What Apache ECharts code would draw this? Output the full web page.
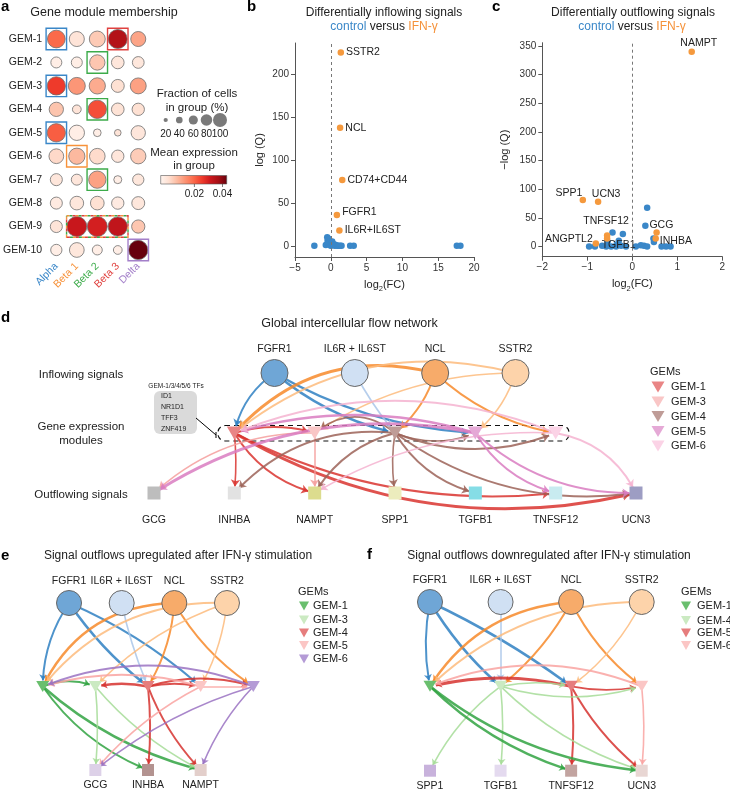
<!DOCTYPE html>
<html>
<head>
<meta charset="utf-8">
<script src="https://cdn.jsdelivr.net/npm/echarts@6.0.0/dist/echarts.min.js"></script>
<style>
html,body{margin:0;padding:0;background:#ffffff;}
#chart{width:730px;height:791px;}
</style>
</head>
<body>
<div id="chart"></div>
<script>
// ================= DATA =================
// --- panel a: gene module membership dot plot ---
const CELL_TYPES = ['Alpha', 'Beta 1', 'Beta 2', 'Beta 3', 'Delta'];
const GEM_ROWS = ['GEM-1','GEM-2','GEM-3','GEM-4','GEM-5','GEM-6','GEM-7','GEM-8','GEM-9','GEM-10'];
const fractionPct = [
  [85, 67, 73, 93, 67],
  [40, 40, 69, 51, 45],
  [89, 80, 75, 53, 73],
  [62, 25, 89, 51, 49],
  [89, 69, 18, 11, 62],
  [65, 75, 71, 49, 69],
  [47, 40, 82, 20, 42],
  [47, 58, 58, 49, 53],
  [47, 100, 100, 95, 55],
  [42, 65, 33, 25, 95]
];
const meanExpr = [
  [0.0195, 0.0007, 0.0054, 0.0350, 0.0110],
  [-0.002, -0.002, 0.0060, 0.0002, 0.0000],
  [0.0256, 0.0130, 0.0100, 0.0016, 0.0115],
  [0.0063, 0.0007, 0.0230, 0.0010, 0.0016],
  [0.0210, -0.002, -0.002, 0.0007, 0.0002],
  [0.0030, 0.0080, 0.0026, 0.0002, 0.0050],
  [0.0002, 0.0002, 0.0115, -0.002, 0.0000],
  [-0.001, 0.0000, 0.0016, -0.001, 0.0000],
  [0.0007, 0.0317, 0.0300, 0.0330, 0.0060],
  [-0.002, 0.0000, -0.002, -0.002, 0.0430]
];
const membership = [ // [module, first cell type, last cell type]
  ['GEM-1','Alpha','Alpha'], ['GEM-1','Beta 3','Beta 3'], ['GEM-2','Beta 2','Beta 2'],
  ['GEM-3','Alpha','Alpha'], ['GEM-4','Beta 2','Beta 2'], ['GEM-5','Alpha','Alpha'],
  ['GEM-6','Beta 1','Beta 1'], ['GEM-7','Beta 2','Beta 2'], ['GEM-9','Beta 1','Beta 3'],
  ['GEM-10','Delta','Delta']
];
const sizeLegendPct = [20, 40, 60, 80, 100];
const colorbarTicks = [0.02, 0.04];
const exprRange = [-0.004, 0.043];

// --- panel b: differentially inflowing signals ---
const inflowControl = [
  [-2.3, 0], [-0.7, 1], [-0.5, 10], [-0.45, 6], [-0.35, 3], [-0.25, 8], [-0.15, 1], [0.0, 0],
  [0.1, 3], [0.2, 5], [0.3, 1], [0.45, 2], [0.55, 0], [0.7, 1], [0.9, 0], [1.1, 0],
  [1.3, 0], [1.5, 0], [2.7, 0], [3.2, 0], [17.6, 0], [18.1, 0]
];
const inflowIfn = [[1.4, 226], [1.3, 138], [1.6, 77], [0.85, 36], [1.2, 18]];
const inflowIfnNames = ['SSTR2', 'NCL', 'CD74+CD44', 'FGFR1', 'IL6R+IL6ST'];

// --- panel c: differentially outflowing signals ---
const outflowControl = [
  [0.33, 67.5], [0.29, 36], [-0.44, 24.5], [-0.21, 21.5], [0.47, 14], [0.48, 7.5],
  [-0.55, 8], [-0.35, 3], [-0.30, 10],
  [-0.96, 0], [-0.83, 0], [-0.67, 1], [-0.58, 0], [-0.47, 0], [-0.36, 0], [-0.25, 1], [-0.14, 0],
  [0.08, 0], [0.19, 2], [0.26, 1], [0.33, 0], [0.65, 0], [0.75, 0], [0.85, 0]
];
const outflowControlNames = ['', 'GCG', '', '', '', 'INHBA', '', 'TGFB1'];
const outflowIfn = [[1.32, 340], [-1.10, 81], [-0.76, 78], [-0.56, 19], [-0.56, 14], [-0.81, 5], [0.54, 24.5], [0.52, 14]];
const outflowIfnNames = ['NAMPT', 'SPP1', 'UCN3', 'TNFSF12', '', 'ANGPTL2', '', ''];

// --- panel d: global intercellular flow network ---
const dInflow = ['FGFR1', 'IL6R + IL6ST', 'NCL', 'SSTR2'];
const dGems = ['GEM-1', 'GEM-3', 'GEM-4', 'GEM-5', 'GEM-6'];
const dOutflow = ['GCG', 'INHBA', 'NAMPT', 'SPP1', 'TGFB1', 'TNFSF12', 'UCN3'];
const dEdges = [
  ['FGFR1','GEM-1'], ['FGFR1','GEM-4'], ['FGFR1','GEM-5'], ['IL6R + IL6ST','GEM-4'],
  ['NCL','GEM-1'], ['NCL','GEM-4'], ['NCL','GEM-6'],
  ['SSTR2','GEM-1'], ['SSTR2','GEM-3'], ['SSTR2','GEM-5'],
  ['GEM-1','GEM-3'], ['GEM-1','INHBA'], ['GEM-1','NAMPT'], ['GEM-1','TNFSF12'], ['GEM-1','UCN3'],
  ['GEM-3','GCG'], ['GEM-3','NAMPT'],
  ['GEM-4','GEM-3'], ['GEM-4','GEM-5'], ['GEM-4','GEM-6'], ['GEM-4','INHBA'], ['GEM-4','NAMPT'],
  ['GEM-4','SPP1'], ['GEM-4','TGFB1'], ['GEM-4','UCN3'],
  ['GEM-5','GEM-1'], ['GEM-5','GCG'], ['GEM-5','TNFSF12'], ['GEM-5','UCN3'],
  ['GEM-6','GEM-1'], ['GEM-6','NAMPT'], ['GEM-6','UCN3']
];
// --- panel e: upregulated outflows ---
const eInflow = ['FGFR1', 'IL6R + IL6ST', 'NCL', 'SSTR2'];
const eGems = ['GEM-1', 'GEM-3', 'GEM-4', 'GEM-5', 'GEM-6'];
const eOutflow = ['GCG', 'INHBA', 'NAMPT'];
const eEdges = [
  ['FGFR1','GEM-1'], ['FGFR1','GEM-4'], ['FGFR1','GEM-5'], ['IL6R + IL6ST','GEM-4'],
  ['NCL','GEM-1'], ['NCL','GEM-4'], ['NCL','GEM-6'],
  ['SSTR2','GEM-1'], ['SSTR2','GEM-3'], ['SSTR2','GEM-5'],
  ['GEM-1','GEM-3'], ['GEM-1','INHBA'], ['GEM-1','NAMPT'],
  ['GEM-3','GCG'], ['GEM-3','NAMPT'],
  ['GEM-4','GEM-3'], ['GEM-4','GEM-5'], ['GEM-4','GEM-6'], ['GEM-4','INHBA'], ['GEM-4','NAMPT'],
  ['GEM-5','GEM-1'], ['GEM-5','GCG'], ['GEM-5','GEM-6'],
  ['GEM-6','GEM-1'], ['GEM-6','GCG'], ['GEM-6','NAMPT']
];
// --- panel f: downregulated outflows ---
const fInflow = ['FGFR1', 'IL6R + IL6ST', 'NCL', 'SSTR2'];
const fGems = ['GEM-1', 'GEM-4', 'GEM-5', 'GEM-6'];
const fOutflow = ['SPP1', 'TGFB1', 'TNFSF12', 'UCN3'];
const fEdges = [
  ['FGFR1','GEM-1'], ['FGFR1','GEM-4'], ['FGFR1','GEM-5'], ['IL6R + IL6ST','GEM-4'],
  ['NCL','GEM-1'], ['NCL','GEM-4'], ['NCL','GEM-6'],
  ['SSTR2','GEM-1'], ['SSTR2','GEM-5'],
  ['GEM-5','GEM-1'], ['GEM-5','GEM-6'], ['GEM-5','TNFSF12'], ['GEM-5','UCN3'],
  ['GEM-6','GEM-1'], ['GEM-6','UCN3'],
  ['GEM-4','GEM-5'], ['GEM-4','GEM-6'], ['GEM-4','SPP1'], ['GEM-4','TGFB1'], ['GEM-4','UCN3'],
  ['GEM-1','TNFSF12'], ['GEM-1','UCN3']
];

// ================= STYLE =================
const FF = '"Liberation Sans", Arial, Helvetica, sans-serif';
const INK = '#222';
const TYPE_COLORS = ['#3a87c8', '#f7923a', '#3cab4a', '#e0413f', '#a37fc9'];
const REDS = ['#fff5f0','#fee0d2','#fcbba1','#fc9272','#fb6a4a','#ef3b2c','#cb181d','#a50f15','#67000d'];
const BLUE = '#3a87c8', ORANGE = '#f5993d';
const inflowFill = ['#6fa6d6', '#d0e0f3', '#f7ab6a', '#fdd3aa'];
const inflowEdge = ['#2f80c2', '#a9c5e9', '#f7892a', '#fdbb7d'];

const outflowLabelOffset = {
  NAMPT: [7, -9], SPP1: [-14, -7], UCN3: [8, -8], TNFSF12: [-1, -14],
  ANGPTL2: [-27, -4], TGFB1: [2, 0], GCG: [16, -1], INHBA: [22, -1]
};

// edge shape: [curveness, width]
const dEdgeStyle = {
  'FGFR1>GEM-1': [-0.2, 2], 'FGFR1>GEM-4': [-0.12, 2.5], 'FGFR1>GEM-5': [-0.12, 2.5],
  'IL6R + IL6ST>GEM-4': [-0.05, 1.6], 'NCL>GEM-1': [-0.3, 3], 'NCL>GEM-4': [0.15, 2],
  'NCL>GEM-6': [-0.15, 2], 'SSTR2>GEM-1': [-0.25, 2], 'SSTR2>GEM-3': [-0.15, 1.6],
  'SSTR2>GEM-5': [0.15, 1.6], 'GEM-1>GEM-3': [0.15, 2], 'GEM-1>INHBA': [0.05, 1.6],
  'GEM-1>NAMPT': [-0.2, 2], 'GEM-1>TNFSF12': [-0.15, 2], 'GEM-1>UCN3': [-0.2, 3],
  'GEM-3>GCG': [-0.2, 1.6], 'GEM-3>NAMPT': [0, 1.6], 'GEM-4>GEM-3': [-0.4, 1.6],
  'GEM-4>GEM-5': [-0.2, 1.6], 'GEM-4>GEM-6': [-0.2, 2], 'GEM-4>INHBA': [-0.25, 2],
  'GEM-4>NAMPT': [-0.2, 2], 'GEM-4>SPP1': [-0.08, 1.6], 'GEM-4>TGFB1': [-0.2, 2],
  'GEM-4>UCN3': [-0.2, 2], 'GEM-5>GEM-1': [-0.15, 2.5], 'GEM-5>GCG': [-0.2, 3],
  'GEM-5>TNFSF12': [-0.2, 2], 'GEM-5>UCN3': [-0.2, 2], 'GEM-6>GEM-1': [-0.2, 2],
  'GEM-6>NAMPT': [-0.15, 1.6], 'GEM-6>UCN3': [0.25, 2]
};
const eEdgeStyle = {
  'FGFR1>GEM-1': [-0.15, 2], 'FGFR1>GEM-4': [-0.08, 2.5], 'FGFR1>GEM-5': [0.08, 2],
  'IL6R + IL6ST>GEM-4': [-0.05, 1.6], 'NCL>GEM-1': [-0.3, 2.5], 'NCL>GEM-4': [0.12, 2],
  'NCL>GEM-6': [-0.12, 2], 'SSTR2>GEM-1': [-0.25, 2], 'SSTR2>GEM-3': [-0.12, 1.6],
  'SSTR2>GEM-5': [0.1, 1.6], 'GEM-1>GEM-3': [0.2, 2], 'GEM-1>INHBA': [-0.15, 2],
  'GEM-1>NAMPT': [-0.12, 2.5], 'GEM-3>GCG': [0.05, 1.6], 'GEM-3>NAMPT': [-0.1, 1.6],
  'GEM-4>GEM-3': [-0.1, 2.5], 'GEM-4>GEM-5': [0.1, 2], 'GEM-4>GEM-6': [0.15, 2],
  'GEM-4>INHBA': [0.05, 2], 'GEM-4>NAMPT': [-0.1, 2], 'GEM-5>GEM-1': [-0.15, 2],
  'GEM-5>GCG': [-0.1, 1.6], 'GEM-5>GEM-6': [0, 1.6], 'GEM-6>GEM-1': [-0.2, 2],
  'GEM-6>GCG': [-0.1, 1.6], 'GEM-6>NAMPT': [-0.1, 1.6]
};
const fEdgeStyle = {
  'FGFR1>GEM-1': [-0.1, 2], 'FGFR1>GEM-4': [-0.08, 2.5], 'FGFR1>GEM-5': [0.05, 2.5],
  'IL6R + IL6ST>GEM-4': [0, 1.6], 'NCL>GEM-1': [-0.25, 2.5], 'NCL>GEM-4': [0.1, 2],
  'NCL>GEM-6': [-0.12, 2], 'SSTR2>GEM-1': [-0.2, 2], 'SSTR2>GEM-5': [0.12, 1.6],
  'GEM-5>GEM-1': [-0.12, 3], 'GEM-5>GEM-6': [-0.1, 1.6], 'GEM-5>TNFSF12': [0.05, 2],
  'GEM-5>UCN3': [-0.1, 2], 'GEM-6>GEM-1': [-0.2, 2], 'GEM-6>UCN3': [0.05, 1.6],
  'GEM-4>GEM-5': [0.1, 1.6], 'GEM-4>GEM-6': [-0.15, 1.6], 'GEM-4>SPP1': [-0.12, 1.6],
  'GEM-4>TGFB1': [0.05, 1.6], 'GEM-4>UCN3': [-0.12, 1.6], 'GEM-1>TNFSF12': [-0.12, 2.5],
  'GEM-1>UCN3': [-0.15, 2.5]
};

const dGemFill = ['#e98585', '#f9c6c6', '#bf9c97', '#e5a9d6', '#fbd3e6'];
const dGemEdge = ['#d9342f', '#f59e9c', '#9c6358', '#d97cc1', '#f5b3d0'];
const dOutFill = ['#bdbdbd', '#e2e2e2', '#dcdc8e', '#ececbd', '#85dde6', '#c8ebf0', '#9d9dc3'];
const eGemFill = ['#6abf6e', '#cbeac2', '#e67d7d', '#fbc6c5', '#b49bd6'];
const eGemEdge = ['#31a342', '#a6dc98', '#d6332f', '#f9a3a1', '#9a72c2'];
const eOutFill = ['#ddd1e8', '#b39390', '#e3cfcb'];
const fGemFill = ['#6abf6e', '#cbeac2', '#e67d7d', '#fbc6c5'];
const fGemEdge = ['#31a342', '#a6dc98', '#d6332f', '#f9a3a1'];
const fOutFill = ['#c8b2dc', '#e4daef', '#c2a4a0', '#e8d6d3'];

const TRI = 'path://M0,0L20,0L10,17Z';

// ================= BUILD =================
const minusFmt = v => (v < 0 ? '\u2212' : '') + Math.abs(v);

const dotData = [];
GEM_ROWS.forEach((g, r) => CELL_TYPES.forEach((c, k) => dotData.push([k, r, fractionPct[r][k], meanExpr[r][k]])));
const boxData = membership.map(m => [CELL_TYPES.indexOf(m[1]), CELL_TYPES.indexOf(m[2]), GEM_ROWS.indexOf(m[0])]);

function netSeries(axisIdx, layers, edges, style, arrow, labelSize) {
  const nodes = [], edgeColor = {};
  layers.forEach(L => {
    L.names.forEach((n, i) => {
      edgeColor[n] = L.edge ? L.edge[i] : '#999';
      nodes.push({
        name: n, value: [L.x0 + i, L.row],
        symbol: L.symbol, symbolSize: L.size,
        itemStyle: { color: L.fill[i], borderColor: L.border || 'rgba(0,0,0,0)', borderWidth: L.border ? 1 : 0, opacity: 1 },
        label: L.label ? { show: true, position: L.label, distance: L.dist, fontSize: labelSize, color: INK, fontFamily: FF } : { show: false }
      });
    });
  });
  const links = edges.map(e => {
    const st = style[e[0] + '>' + e[1]] || [0, 1.6];
    return { source: e[0], target: e[1], lineStyle: { color: edgeColor[e[0]], width: st[1], curveness: st[0], opacity: 0.85 } };
  });
  return {
    type: 'graph', coordinateSystem: 'cartesian2d', xAxisIndex: axisIdx, yAxisIndex: axisIdx,
    layout: 'none', roam: false, silent: true, animation: false,
    edgeSymbol: ['none', 'arrow'], edgeSymbolSize: [0, arrow],
    lineStyle: { opacity: 0.85 }, emphasis: { disabled: true },
    data: nodes, links: links, z: 3
  };
}

const dSeries = netSeries(3, [
  { names: dInflow, x0: 1.5, row: 2, symbol: 'circle', size: 27, fill: inflowFill, edge: inflowEdge, border: '#666', label: 'top', dist: 4 },
  { names: dGems, x0: 1, row: 1, symbol: TRI, size: [15, 13], fill: dGemFill, edge: dGemEdge },
  { names: dOutflow, x0: 0, row: 0, symbol: 'rect', size: 13, fill: dOutFill, label: 'bottom', dist: 15 }
], dEdges, dEdgeStyle, 7, 10.5);
const eSeries = netSeries(4, [
  { names: eInflow, x0: 0.5, row: 2, symbol: 'circle', size: 25, fill: inflowFill, edge: inflowEdge, border: '#666', label: 'top', dist: 3 },
  { names: eGems, x0: 0, row: 1, symbol: TRI, size: [13, 11], fill: eGemFill, edge: eGemEdge },
  { names: eOutflow, x0: 1, row: 0, symbol: 'rect', size: 12, fill: eOutFill, label: 'bottom', dist: 4 }
], eEdges, eEdgeStyle, 6, 10.5);
const fSeries = netSeries(5, [
  { names: fInflow, x0: 0, row: 2, symbol: 'circle', size: 25, fill: inflowFill, edge: inflowEdge, border: '#666', label: 'top', dist: 3 },
  { names: fGems, x0: 0, row: 1, symbol: TRI, size: [13, 11], fill: fGemFill, edge: fGemEdge },
  { names: fOutflow, x0: 0, row: 0, symbol: 'rect', size: 12, fill: fOutFill, label: 'bottom', dist: 4 }
], fEdges, fEdgeStyle, 6, 10.5);

// ---------- graphics (titles, legends, annotations) ----------
const G = [];
function txt(x, y, text, o) {
  o = o || {};
  const al = o.align || 'center', va = o.va || 'middle';
  G.push({ type: 'text', x: x, y: y, silent: true, z: 20, style: {
    text: text, fill: o.color || INK, fontSize: o.size || 11, fontFamily: FF,
    fontWeight: o.weight || 'normal', align: al, verticalAlign: va, textAlign: al, textVerticalAlign: va,
    rich: o.rich
  }});
}
// panel letters
[['a', 1, 7], ['b', 247, 7], ['c', 492, 7], ['d', 1, 318], ['e', 1, 556], ['f', 367, 555]].forEach(l =>
  txt(l[1], l[2], l[0], { size: 15, weight: 'bold', align: 'left', color: '#000' }));
// titles
txt(104, 13, 'Gene module membership', { size: 12.5 });
const cvRich = {
  b: { fill: '#3a87c8', color: '#3a87c8', fontSize: 12, fontFamily: FF },
  k: { fill: INK, color: INK, fontSize: 12, fontFamily: FF },
  o: { fill: '#f5923a', color: '#f5923a', fontSize: 12, fontFamily: FF }
};
txt(384, 13, 'Differentially inflowing signals', { size: 12 });
txt(384, 27, '{b|control}{k| versus }{o|IFN-\u03b3}', { rich: cvRich, size: 12 });
txt(633, 13, 'Differentially outflowing signals', { size: 12 });
txt(632, 27, '{b|control}{k| versus }{o|IFN-\u03b3}', { rich: cvRich, size: 12 });

// panel a legends
txt(197, 94, 'Fraction of cells', { size: 11.5 });
txt(197, 108, 'in group (%)', { size: 11.5 });
const legDotX = [165.7, 179.3, 193.3, 206.5, 220];
sizeLegendPct.forEach((p, i) => {
  const d = 1.8 + p * 0.122;
  G.push({ type: 'circle', silent: true, z: 20, shape: { cx: legDotX[i], cy: 120, r: d / 2 }, style: { fill: '#7a7a7a' } });
  txt(legDotX[i], 134, String(p), { size: 10 });
});
txt(194, 153, 'Mean expression', { size: 11.5 });
txt(194, 166, 'in group', { size: 11.5 });
const cbX = 160.7, cbW = 66, cbY = 175.5, cbH = 8.5;
G.push({ type: 'rect', silent: true, z: 20, shape: { x: cbX, y: cbY, width: cbW, height: cbH },
  style: { fill: new echarts.graphic.LinearGradient(0, 0, 1, 0, REDS.map((c, i) => ({ offset: i / (REDS.length - 1), color: c }))),
    stroke: '#555', lineWidth: 0.6 } });
colorbarTicks.forEach(v => {
  const x = cbX + cbW * (v - exprRange[0]) / (exprRange[1] - exprRange[0]);
  G.push({ type: 'line', silent: true, z: 20, shape: { x1: x, y1: cbY + cbH, x2: x, y2: cbY + cbH + 3 }, style: { stroke: '#444', lineWidth: 0.7 } });
  txt(x, 194, v.toFixed(2), { size: 10 });
});

// panel d annotations
txt(349.5, 324, 'Global intercellular flow network', { size: 12.5 });
txt(81, 375, 'Inflowing signals', { size: 11.5 });
txt(81, 427, 'Gene expression', { size: 11.5 });
txt(81, 441, 'modules', { size: 11.5 });
txt(81, 495, 'Outflowing signals', { size: 11.5 });
G.push({ type: 'rect', silent: true, z: 1, shape: { x: 154, y: 391, width: 43, height: 43, r: 6 }, style: { fill: '#dadada' } });
txt(176, 386, 'GEM-1/3/4/5/6 TFs', { size: 6.5 });
['ID1', 'NR1D1', 'TFF3', 'ZNF419'].forEach((t, i) => txt(161, 396 + i * 11, t, { size: 7, align: 'left' }));
G.push({ type: 'polyline', silent: true, z: 20, shape: { points: [[196, 418], [216, 435]] }, style: { stroke: '#000', lineWidth: 1, fill: null } });
G.push({ type: 'line', silent: true, z: 20, shape: { x1: 216, y1: 432, x2: 216, y2: 438 }, style: { stroke: '#000', lineWidth: 1 } });
G.push({ type: 'rect', silent: true, z: 1, shape: { x: 218, y: 425.5, width: 351, height: 15.5, r: 7 },
  style: { fill: 'rgba(0,0,0,0)', stroke: '#111', lineWidth: 1.2, lineDash: [5, 4] } });

function gemLegend(x, yTitle, triX, labX, ys, names, fills, tw, th) {
  txt(x, yTitle, 'GEMs', { size: 11, align: 'left' });
  names.forEach((n, i) => {
    G.push({ type: 'polygon', silent: true, z: 20, shape: { points: [[triX - tw / 2, ys[i] - th / 2], [triX + tw / 2, ys[i] - th / 2], [triX, ys[i] + th / 2]] }, style: { fill: fills[i] } });
    txt(labX, ys[i], n, { size: 11, align: 'left' });
  });
}
gemLegend(650, 372, 658, 671, [387, 402, 416.5, 431.5, 446], dGems, dGemFill, 13, 11);

// panels e, f
txt(178, 556, 'Signal outflows upregulated after IFN-\u03b3 stimulation', { size: 12 });
txt(549, 556, 'Signal outflows downregulated after IFN-\u03b3 stimulation', { size: 12 });
gemLegend(298, 592, 304, 313, [606, 620, 633, 645.5, 659], eGems, eGemFill, 10, 9);
gemLegend(681, 592, 686, 697, [606, 620.5, 633, 645.5], fGems, fGemFill, 10, 9);

// ---------- axes ----------
const axisLineStyle = { show: true, onZero: false, lineStyle: { color: '#555', width: 1 } };
const tickStyle = { show: true, length: 4, lineStyle: { color: '#555', width: 1 } };
const subName = '{n|log}{s|2}{n|(FC)}';
const subRich = {
  n: { fontSize: 11, color: INK, fontFamily: FF, padding: [0, 0, 3, 0] },
  s: { fontSize: 7.5, color: INK, fontFamily: FF, verticalAlign: 'bottom' }
};
const hiddenAxis = (gi, min, max) => ({ gridIndex: gi, type: 'value', min: min, max: max, show: false, splitLine: { show: false } });

const option = {
  animation: false,
  backgroundColor: '#ffffff',
  textStyle: { fontFamily: FF },
  grid: [
    { left: 43.5, top: 27.3, width: 105, height: 234.4 },
    { left: 295, top: 43, width: 179, height: 214 },
    { left: 542.3, top: 42.7, width: 180, height: 214 },
    { left: 154, top: 373, width: 482, height: 120 },
    { left: 42.7, top: 603, width: 210.6, height: 167 },
    { left: 430, top: 602, width: 211.7, height: 168.7 }
  ],
  visualMap: [{
    type: 'continuous', show: false, seriesIndex: 0, dimension: 3,
    min: exprRange[0], max: exprRange[1], inRange: { color: REDS }
  }],
  xAxis: [
    { gridIndex: 0, type: 'category', data: CELL_TYPES, axisLine: { show: false }, axisTick: { show: false },
      splitLine: { show: false },
      axisLabel: { rotate: 45, fontSize: 10.5, margin: 3, fontFamily: FF, color: (v, i) => TYPE_COLORS[CELL_TYPES.indexOf(v)] } },
    { gridIndex: 1, type: 'value', min: -5, max: 20, interval: 5, axisLine: axisLineStyle, axisTick: tickStyle,
      splitLine: { show: false }, axisLabel: { fontSize: 10, color: '#333', formatter: minusFmt, margin: 6 },
      name: subName, nameLocation: 'middle', nameGap: 22, nameTextStyle: { rich: subRich } },
    { gridIndex: 2, type: 'value', min: -2, max: 2, interval: 1, axisLine: axisLineStyle, axisTick: tickStyle,
      splitLine: { show: false }, axisLabel: { fontSize: 10, color: '#333', formatter: minusFmt, margin: 6 },
      name: subName, nameLocation: 'middle', nameGap: 22, nameTextStyle: { rich: subRich } },
    hiddenAxis(3, 0, 6), hiddenAxis(4, 0, 4), hiddenAxis(5, 0, 3)
  ],
  yAxis: [
    { gridIndex: 0, type: 'category', data: GEM_ROWS, inverse: true, axisLine: { show: false }, axisTick: { show: false },
      splitLine: { show: false }, axisLabel: { fontSize: 10.5, color: INK, margin: 4, fontFamily: FF } },
    { gridIndex: 1, type: 'value', min: -13, max: 237, axisLine: axisLineStyle,
      axisTick: Object.assign({ customValues: [0, 50, 100, 150, 200] }, tickStyle),
      splitLine: { show: false },
      axisLabel: { fontSize: 10, color: '#333', margin: 6, customValues: [0, 50, 100, 150, 200] },
      name: 'log (Q)', nameLocation: 'middle', nameGap: 30, nameRotate: 90,
      nameTextStyle: { fontSize: 11, color: INK, fontFamily: FF } },
    { gridIndex: 2, type: 'value', min: -18, max: 356, axisLine: axisLineStyle,
      axisTick: Object.assign({ customValues: [0, 50, 100, 150, 200, 250, 300, 350] }, tickStyle),
      splitLine: { show: false },
      axisLabel: { fontSize: 10, color: '#333', margin: 6, customValues: [0, 50, 100, 150, 200, 250, 300, 350] },
      name: '\u2212log (Q)', nameLocation: 'middle', nameGap: 32, nameRotate: 90,
      nameTextStyle: { fontSize: 11, color: INK, fontFamily: FF } },
    hiddenAxis(3, 0, 2), hiddenAxis(4, 0, 2), hiddenAxis(5, 0, 2)
  ],
  series: [
    { type: 'scatter', xAxisIndex: 0, yAxisIndex: 0, data: dotData, encode: { x: 0, y: 1 },
      symbolSize: v => 5 + 15 * v[2] / 100, silent: true,
      itemStyle: { borderColor: '#6f6f6f', borderWidth: 0.8, opacity: 1 }, z: 2 },
    { type: 'custom', xAxisIndex: 0, yAxisIndex: 0, data: boxData, encode: { x: [0, 1], y: 2 }, silent: true, z: 4,
      renderItem: function (params, api) {
        const c0 = api.value(0), c1 = api.value(1), r = api.value(2);
        const p0 = api.coord([c0, r]), p1 = api.coord([c1, r]);
        const sz = api.size([1, 1]);
        const shape = { x: p0[0] - sz[0] / 2, y: p0[1] - sz[1] / 2 + 1, width: p1[0] - p0[0] + sz[0], height: sz[1] - 2 };
        if (c0 === c1) {
          return { type: 'rect', shape: shape, style: { fill: 'none', stroke: TYPE_COLORS[c0], lineWidth: 1.4 } };
        }
        const kids = [];
        const n = c1 - c0 + 1;
        for (let k = 0; k < n; k++) {
          kids.push({ type: 'rect', shape: shape, style: { fill: 'none', stroke: TYPE_COLORS[c0 + k], lineWidth: 1.4, lineDash: [3, 3 * (n - 1)], lineDashOffset: -3 * k } });
        }
        return { type: 'group', children: kids };
      } },
    { type: 'scatter', xAxisIndex: 1, yAxisIndex: 1, data: inflowControl, symbolSize: 6.5, silent: true,
      itemStyle: { color: BLUE, opacity: 1 }, z: 2,
      markLine: { silent: true, symbol: 'none', label: { show: false }, animation: false,
        lineStyle: { type: [3, 3], color: '#777', width: 1 }, data: [{ xAxis: 0 }] } },
    { type: 'scatter', xAxisIndex: 1, yAxisIndex: 1, silent: true, symbolSize: 6.5, z: 3,
      itemStyle: { color: ORANGE, opacity: 1 },
      data: inflowIfn.map((p, i) => ({ value: p, name: inflowIfnNames[i],
        label: { show: true, position: 'right', distance: 2, offset: inflowIfnNames[i] === 'FGFR1' ? [0, -3] : [0, 0],
          formatter: '{b}', fontSize: 10.5, color: INK, fontFamily: FF } })) },
    { type: 'scatter', xAxisIndex: 2, yAxisIndex: 2, silent: true, symbolSize: 6.5, z: 2,
      itemStyle: { color: BLUE, opacity: 1 },
      data: outflowControl.map((p, i) => {
        const nm = outflowControlNames[i] || '';
        return { value: p, name: nm, label: nm ? { show: true, position: 'inside', offset: outflowLabelOffset[nm], formatter: '{b}', fontSize: 10.5, color: INK, fontFamily: FF } : { show: false } };
      }),
      markLine: { silent: true, symbol: 'none', label: { show: false }, animation: false,
        lineStyle: { type: [3, 3], color: '#777', width: 1 }, data: [{ xAxis: 0 }] } },
    { type: 'scatter', xAxisIndex: 2, yAxisIndex: 2, silent: true, symbolSize: 6.5, z: 3,
      itemStyle: { color: ORANGE, opacity: 1 },
      data: outflowIfn.map((p, i) => {
        const nm = outflowIfnNames[i] || '';
        return { value: p, name: nm, label: nm ? { show: true, position: 'inside', offset: outflowLabelOffset[nm], formatter: '{b}', fontSize: 10.5, color: INK, fontFamily: FF } : { show: false } };
      }) },
    dSeries, eSeries, fSeries
  ],
  graphic: { elements: G }
};

const chart = echarts.init(document.getElementById('chart'), null, { renderer: 'canvas' });
chart.setOption(option);
</script>
</body>
</html>
